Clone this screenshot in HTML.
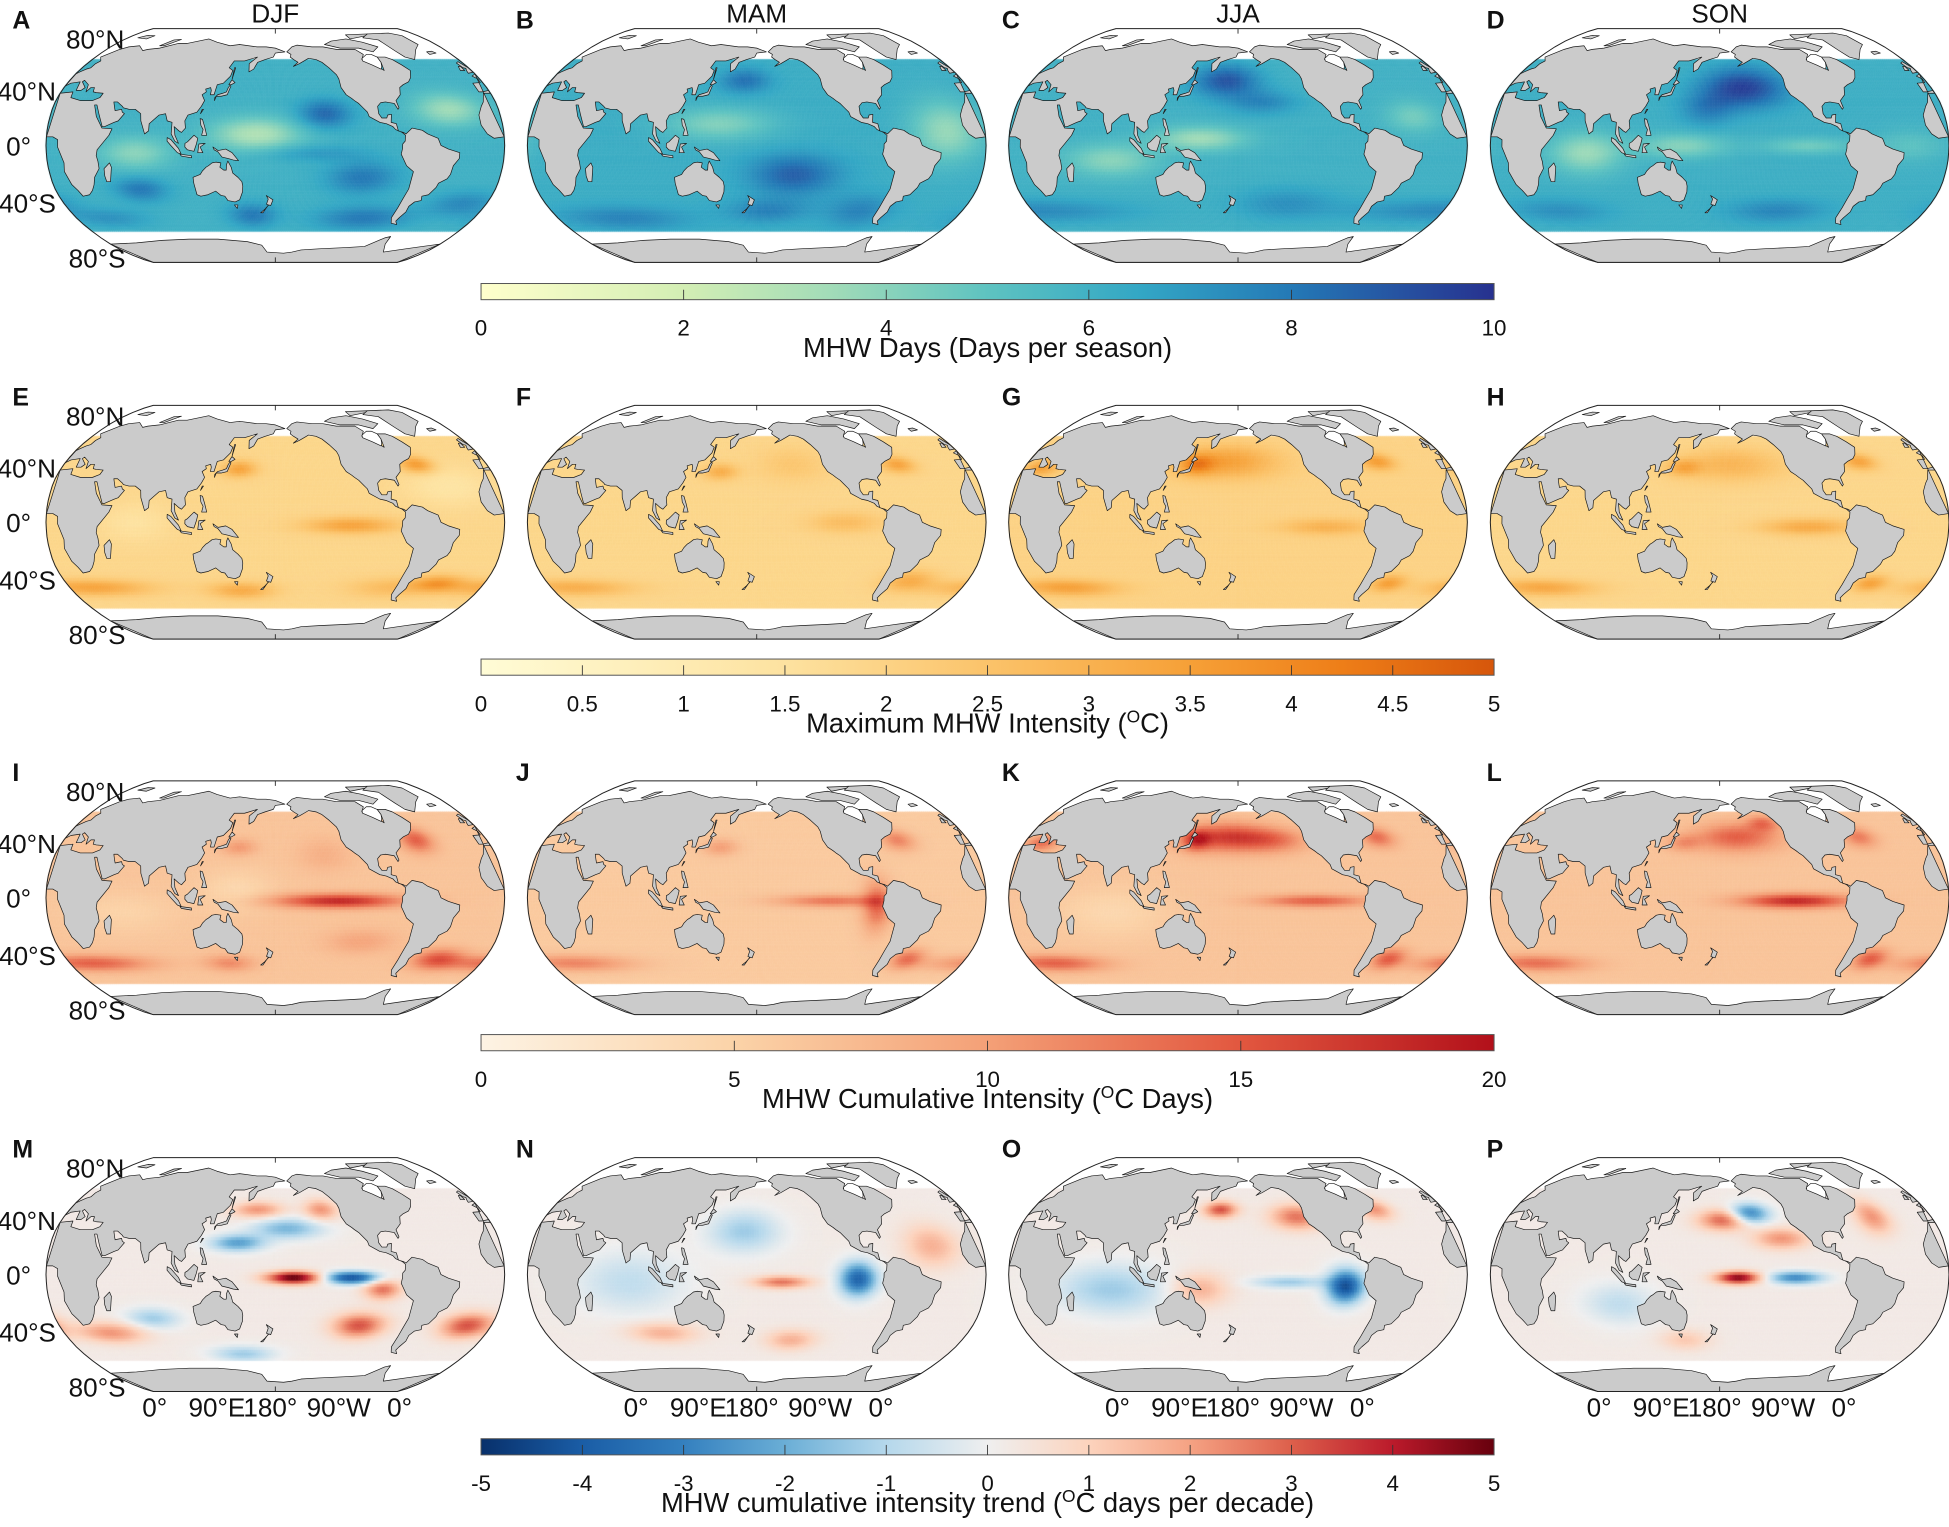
<!DOCTYPE html>
<html><head><meta charset="utf-8"><title>MHW seasonal maps</title>
<style>
body{margin:0;background:#fff}
#root{position:relative;width:1949px;height:1527px;background:#fff;overflow:hidden}
#cv,#sv{position:absolute;left:0;top:0}
text{font-family:"Liberation Sans",Arial,sans-serif;fill:#111}
</style></head>
<body>
<div id="root">
<canvas id="cv" width="1949" height="1527"></canvas>
<svg id="sv" width="1949" height="1527" viewBox="0 0 1568 1228" preserveAspectRatio="none" xmlns="http://www.w3.org/2000/svg">
<defs id="defs"></defs>
<g id="maps"></g>
<g id="labels"></g>
<g id="cbars"></g>
</svg>
</div>
<script>
// ---------- DATA ----------
const seasons = ['DJF','MAM','JJA','SON'];
const letters = ['A','B','C','D','E','F','G','H','I','J','K','L','M','N','O','P'];
const rowBase = [
  [6,6.2,6,6.1],
  [1.9,1.9,2.0,1.9],
  [6.5,6,6.5,6.5],
  [0.2,0.2,0.2,0.2]
];
// blobs: [lon, lat, sigmaLon, sigmaLat, amplitude]
const blobsA = [[165,8,25,8,-3],[70,-5,20,8,-2],[-40,25,20,8,-2.5],[-140,22,15,7,2.5],[-110,-22,20,8,2],[70,-30,15,6,2],[-100,-50,30,6,2],[160,-48,15,6,2],[-150,-5,30,4,1],[-20,-40,20,6,1.5],[30,-50,25,5,1.2]];
const blobsB = [[-30,10,20,15,-2.5],[150,15,30,8,-2],[-150,-20,25,10,2.5],[-90,-45,20,8,1.5],[60,-50,40,6,1.5],[170,45,15,6,2],[-170,-45,25,6,1.5]];
const blobsC = [[170,45,20,8,3],[-160,30,20,6,1.5],[150,5,25,6,-2.5],[80,-10,25,8,-2],[-40,20,15,8,-1.5],[0,-45,60,6,1.5],[-140,-40,30,8,1.2]];
const blobsD = [[-160,40,25,10,3.5],[170,25,15,8,1.5],[150,0,25,6,-2],[75,-5,20,10,-2.5],[-110,0,25,4,-1.5],[-130,-45,30,6,1.5],[-30,0,20,8,-1],[40,-45,30,6,1.2]];
const blobsE = [[20,-45,35,4,1.5],[150,-47,20,4,1.3],[-80,-45,25,5,0.8],[-40,-42,15,4,1.5],[-120,-2,25,4,1.5],[150,37,10,4,1.5],[-60,40,10,4,1.8],[-40,25,25,10,-0.5],[70,0,20,10,-0.4]];
const blobsF = [[20,-45,35,4,1.2],[-50,-40,15,5,1.2],[150,35,10,4,1.2],[-60,40,10,4,1.5],[-110,0,20,5,0.8],[-150,40,20,8,0.5]];
const blobsG = [[170,42,30,8,1.5],[145,40,10,5,1.5],[-60,42,10,4,1.6],[30,-45,30,4,1.5],[-50,-42,10,4,1.5],[-110,-3,25,4,1.0],[15,38,10,4,1.5]];
const blobsH = [[-170,40,30,8,1.0],[150,38,10,4,1.2],[-60,42,10,4,1.5],[25,-45,30,4,1.4],[-50,-42,10,4,1.5],[-110,-3,25,4,1.3]];
const blobsI = [[-130,-2,35,3.5,12],[20,-45,35,4,8],[140,-45,15,4,5],[-40,-42,15,5,8],[-60,40,10,6,8],[150,35,10,4,4],[150,5,20,10,-2],[60,-10,30,10,-1.5],[-110,-30,20,6,3],[-140,30,15,8,2]];
const blobsJ = [[-120,-2,30,3,7],[20,-45,35,4,6],[-50,-42,10,5,7],[-60,40,10,5,6],[-85,-5,8,12,8],[150,35,10,4,4]];
const blobsK = [[170,42,25,7,10],[-150,40,20,6,6],[145,40,8,5,8],[-60,42,10,5,7],[-120,-2,30,3,8],[20,-45,30,4,8],[-50,-42,10,5,8],[15,38,10,4,7],[80,-10,30,12,-2]];
const blobsL = [[-165,42,25,7,8],[-140,52,10,4,6],[-120,-2,30,3.5,12],[-60,42,10,5,6],[20,-45,30,4,7],[-50,-42,10,5,8],[150,38,10,4,4]];
const blobsM = [[-165,-2,15,3,5],[-120,-2,15,3,-4.5],[150,22,15,4,-2.5],[-170,32,20,5,-2],[165,45,15,4,2],[-110,-35,15,6,3],[-20,-35,15,6,3],[40,-40,20,5,2],[80,-30,15,5,-1.5],[150,-55,20,4,-1.5],[-140,45,10,5,2],[-95,-10,10,5,2.5]];
const blobsN = [[-100,-3,10,8,-4],[-160,-5,15,3,2.5],[170,30,20,10,-1.5],[80,-5,30,15,-1],[-40,20,15,10,1.5],[100,-40,20,5,1.5],[-150,-45,15,5,1.5]];
const blobsO = [[-95,-8,10,8,-4.5],[-130,40,15,6,2.5],[165,45,10,4,3],[-60,45,10,5,2],[80,-10,30,12,-1.5],[-140,-5,20,3,-1.5],[150,-10,15,8,1.5]];
const blobsP = [[-165,-2,12,3,4.5],[-120,-2,15,3,-3],[-155,42,12,5,-3.5],[-175,38,15,5,3],[-130,25,15,5,2],[100,-20,20,10,-1],[-50,40,10,8,2],[150,-45,15,5,1]];
const panelBlobs = [blobsA,blobsB,blobsC,blobsD,blobsE,blobsF,blobsG,blobsH,blobsI,blobsJ,blobsK,blobsL,blobsM,blobsN,blobsO,blobsP];

const ticks1 = [0,2,4,6,8,10];
const ticks2 = [0,0.5,1,1.5,2,2.5,3,3.5,4,4.5,5];
const ticks3 = [0,5,10,15,20];
const ticks4 = [-5,-4,-3,-2,-1,0,1,2,3,4,5];
const ranges = [[0,10],[0,5],[0,20],[-5,5]];

const cmapDays = [[0,'#ffffcc'],[0.2,'#d3eeb4'],[0.35,'#a0dbb8'],[0.5,'#5ec3c1'],[0.65,'#33a7c5'],[0.8,'#2479b6'],[1,'#27318f']];
const cmapInt = [[0,'#fffcd6'],[0.3,'#fde2a0'],[0.5,'#fbc36a'],[0.7,'#f6a037'],[0.85,'#ee7e18'],[1,'#d6560b']];
const cmapCum = [[0,'#fdf3e4'],[0.25,'#fbd3a8'],[0.5,'#f4a077'],[0.75,'#e2573f'],[1,'#b2101a']];
const cmapDiv = [[0,'#08306b'],[0.1,'#1a5da6'],[0.2,'#3480bf'],[0.3,'#6aaed6'],[0.4,'#b5d8ec'],[0.5,'#efefef'],[0.6,'#fcd3bd'],[0.7,'#f5a283'],[0.8,'#dd5f4b'],[0.9,'#bb1a2b'],[1,'#67000d']];
const cmaps = [cmapDays,cmapInt,cmapCum,cmapDiv];

// ---------- GEOMETRY ----------
const RX = 184.5, RY = 94;
const colCX = [221.5, 608.8, 996, 1383.5];
const rowCY = [117, 420, 722, 1025];
const cbarTop = [228, 530, 832, 1157];
const CBX0 = 387, CBX1 = 1202, CBH = 13;
const PLEN=[1,.9986,.9954,.99,.9822,.973,.96,.9427,.9216,.8962,.8679,.835,.7986,.7597,.7186,.6732,.6213,.5722,.5322];
const PDFE=[0,.062,.124,.186,.248,.31,.372,.434,.4958,.5571,.6176,.6769,.7346,.7903,.8435,.8936,.9394,.9761,1];
function interp(t,lat){const a=Math.min(Math.abs(lat),90)/5;const i=Math.min(Math.floor(a),17);const f=a-i;return t[i]+(t[i+1]-t[i])*f;}
function proj(cx,cy,lon,lat){const L=((lon%360)+360)%360;const d=L-180;return [cx+RX*interp(PLEN,lat)*d/180, cy-(lat<0?-1:1)*RY*interp(PDFE,lat)];}

const land = {
 eurasiaAfrica:[[0.01,49.5],[2,51],[5,53],[8,54],[8,57],[10,59],[5,62],[14,68],[20,70],[30,71],[40,67],[44,68],[55,69],[70,73],[80,73],[100,77],[113,74],[130,71],[140,72],[160,70],[170,70],[180,69],[190,66],[180,65],[178,62],[170,60],[163,58],[160,53],[156,51],[155,57],[162,62],[150,59],[140,59],[137,54],[141,52],[140,48],[135,43],[130,42],[129,35],[126,35],[126,38],[125,40],[121,39],[122,37],[119,35],[122,31],[120,27],[117,23],[110,21],[108,17],[109,12],[106,9],[104,10],[100,13],[101,7],[104,1.5],[101,3],[98,8],[98,16],[94,17],[92,22],[87,21],[80,15],[80,10],[77,8],[73,17],[72,22],[67,25],[62,25],[57,26],[56,27],[51,30],[48,30],[50,26],[51,24],[56,25],[57,23],[59,22],[55,17],[52,16],[45,13],[43,13],[39,21],[35,28],[33,28],[37,20],[43,12],[51,11.5],[49,7],[40,-3],[39,-7],[40,-11],[40,-16],[35,-22],[33,-27],[30,-31],[26,-34],[20,-35],[18,-31],[15,-27],[12,-18],[13,-12],[9,-1],[9,4],[5,6],[0.01,6],[0.01,36],[10,37],[11,33],[20,31],[30,31],[35,33],[36,36],[30,36.5],[27,37],[26,40],[23,40],[21,37],[19,42],[13,45],[12,44],[18,40],[16,38],[12,38],[10,44],[3,43],[0.01,41]],
 africaWest:[[359.99,6],[352,5],[347,8],[343,14],[343,21],[347,27],[350,30],[354,36],[359.99,36],[359.99,38],[354,37],[351,37],[351,43],[358,43.5],[358.5,46],[355.5,48],[359.99,49.5]],
 uk:[[-5.5,50],[-0.01,50.8],[-0.01,53.5],[-3,58.5],[-6,57.5],[-5,54],[-3,53.5],[-4.5,52]],
 ireland:[[-10,52],[-6,52],[-6,55],[-8,55]],
 iceland:[[-22,64],[-14,65],[-16,66.5],[-22,66]],
 americas:[[-168,66],[-162,70],[-156,71.5],[-140,70],[-128,70],[-115,68],[-95,68],[-90,64],[-95,60],[-85,56],[-80,52],[-78,58],[-78,62],[-70,62],[-65,60],[-60,56],[-56,52],[-60,47],[-64,44],[-70,42],[-74,40],[-76,35],[-81,31],[-80,26],[-81,25],[-83,29],[-90,30],[-94,29.5],[-97,27],[-97,22],[-95,19],[-91,19],[-90,21],[-87,21.5],[-88,16],[-84,15],[-83,10],[-79,9],[-77,8],[-72,12],[-64,10.5],[-60,8],[-52,5],[-50,0],[-44,-2.5],[-35,-5],[-35,-9],[-39,-14],[-40,-20],[-42,-23],[-48,-26],[-49,-29],[-53,-34],[-58,-35],[-57,-38],[-62,-39],[-65,-42],[-65,-46],[-68,-50],[-69,-52.5],[-66,-55],[-72,-54],[-75,-50],[-74,-43],[-73,-37],[-71,-30],[-70,-18],[-76,-14],[-81,-6],[-80,-2],[-80,1],[-78,3],[-77.5,7],[-80,9],[-85,11],[-87,13],[-92,15],[-97,16],[-105,20],[-106,23],[-109,26],[-112,29],[-115,31],[-117,32.5],[-121,35],[-124,40],[-124,46],[-125,49],[-130,54],[-135,58],[-140,60],[-147,61],[-152,59],[-157,57],[-163,55],[-158,58],[-162,60],[-165,62],[-164,64]],
 hudson:[[-95,59],[-94,61],[-87,64],[-82,64],[-78,62],[-78,58],[-80,55],[-82,53],[-88,56]],
 arcticIslands:[[-125,72],[-115,75],[-95,77],[-80,74],[-68,70],[-78,66],[-90,69],[-110,69]],
 ellesmere:[[-90,77],[-65,80],[-60,82],[-90,81]],
 greenland:[[-73,78],[-60,82],[-30,83],[-20,80],[-20,72],[-30,68],[-43,60],[-50,62],[-54,67],[-58,76]],
 australia:[[114,-22],[114,-26],[115,-34],[118,-35],[124,-34],[131,-31.5],[135,-34.5],[138,-35],[140,-38],[146,-39],[150,-37.5],[153,-32],[153.5,-28],[153,-25],[150,-22],[146,-19],[145,-15],[142.5,-10.7],[141.5,-13],[141,-17],[139,-17],[136,-15],[137,-12],[133,-11.5],[130,-12],[127,-14],[125,-15],[122,-17.5],[120,-20]],
 tasmania:[[145,-41],[148,-41],[147,-43.5]],
 nz:[[172.5,-34.5],[178,-37.5],[176,-41.5],[174.5,-41],[172,-43],[171,-44],[167,-46.5],[169,-46.5],[174,-41],[172.5,-40.5],[174,-37]],
 madagascar:[[44,-25],[47,-25],[50,-15],[49,-12],[44,-16],[43.5,-21]],
 borneo:[[109,1.5],[111,2.5],[116,7],[119,5],[118,1],[116,-4],[111,-3],[109,-1]],
 sumatra:[[95,5.5],[98,4],[104,-2],[106,-6],[103,-5],[98,0],[95,3]],
 java:[[105,-6],[114,-7],[114,-8.5],[106,-7.3]],
 sulawesi:[[119,-5],[120,1],[125,1.5],[121,-1],[123,-5]],
 newGuinea:[[131,-1],[135,-3.5],[141,-2.5],[146,-5],[151,-10.5],[147,-10],[143,-9],[138,-8],[135,-4.5],[132,-3]],
 philippines:[[120,18.5],[122,18],[124,13],[126,7],[122,7],[123,11],[121,14]],
 japan:[[130,31],[131,34],[135,34],[140,35],[141,38],[142,41],[141,41.5],[140,40],[139,37],[136,36],[132,35],[130,33]],
 hokkaido:[[140,42],[142,42],[145,43.5],[142,45.5]],
 sakhalin:[[142,46],[143,54],[142,54]],
 taiwan:[[120,22],[122,25],[121,25]],
 svalbard:[[12,78],[25,77],[28,80],[18,80.5]],
 novayaZemlya:[[52,71],[57,71],[68,76.5],[60,76]],
 antarctica:[[0.01,-70],[30,-69],[60,-67],[90,-66],[120,-66],[150,-68],[165,-71],[170,-77],[190,-78],[200,-77],[210,-75],[230,-74],[260,-73],[280,-72],[293,-65],[298,-64],[300,-70],[310,-77],[330,-74],[345,-72],[359.99,-70],[359.99,-90],[0.01,-90]]
};

function hex2rgb(h){return [parseInt(h.substr(1,2),16),parseInt(h.substr(3,2),16),parseInt(h.substr(5,2),16)];}
function cmapColor(cm,t){t=Math.max(0,Math.min(1,t));for(let i=0;i<cm.length-1;i++){if(t<=cm[i+1][0]){const f=(t-cm[i][0])/(cm[i+1][0]-cm[i][0]);const a=hex2rgb(cm[i][1]),b=hex2rgb(cm[i+1][1]);return 'rgb('+Math.round(a[0]+(b[0]-a[0])*f)+','+Math.round(a[1]+(b[1]-a[1])*f)+','+Math.round(a[2]+(b[2]-a[2])*f)+')';}}return cm[cm.length-1][1];}
function fieldValue(base,blobs,lon,lat){let v=base;for(const b of blobs){const dl=((lon-b[0]+540)%360)-180;const dt=lat-b[1];v+=b[4]*Math.exp(-0.5*((dl/b[2])**2+(dt/b[3])**2));}return v;}
const NS='http://www.w3.org/2000/svg';
function mk(tag,attrs,parent){const e=document.createElementNS(NS,tag);for(const k in attrs)e.setAttribute(k,attrs[k]);if(parent)parent.appendChild(e);return e;}

const cv=document.getElementById('cv');const ctx=cv.getContext('2d');
ctx.setTransform(1949/1568,0,0,1527/1228,0,0);
const STEP=2;
for(let r=0;r<4;r++){for(let c=0;c<4;c++){
  const idx=r*4+c, cx=colCX[c], cy=rowCY[r], blobs=panelBlobs[idx], base=rowBase[r][c];
  const [v0,v1]=ranges[r], cm=cmaps[r];
  for(let lat=-60;lat<60;lat+=STEP){
    const y0=cy-(lat<0?-1:1)*RY*interp(PDFE,lat), y1=cy-((lat+STEP)<0?-1:1)*RY*interp(PDFE,lat+STEP);
    const p0=interp(PLEN,lat), p1=interp(PLEN,lat+STEP);
    for(let L=0;L<360;L+=STEP){
      const d0=L-180, d1=L+STEP-180;
      const v=fieldValue(base,blobs,L+STEP/2,lat+STEP/2);
      const col=cmapColor(cm,(v-v0)/(v1-v0));
      ctx.fillStyle=col;ctx.strokeStyle=col;ctx.lineWidth=0.5;
      ctx.beginPath();
      ctx.moveTo(cx+RX*p0*d0/180,y0);ctx.lineTo(cx+RX*p0*d1/180,y0);
      ctx.lineTo(cx+RX*p1*d1/180,y1);ctx.lineTo(cx+RX*p1*d0/180,y1);
      ctx.closePath();ctx.fill();ctx.stroke();
    }
  }
}}

const mapsG=document.getElementById('maps');
function polyPath(cx,cy,pts){return 'M'+pts.map(p=>{const q=proj(cx,cy,p[0],p[1]);return q[0].toFixed(1)+','+q[1].toFixed(1);}).join('L')+'Z';}
function outlinePath(cx,cy){let s='';for(let lat=90;lat>=-90;lat-=5){const x=cx-RX*interp(PLEN,lat),y=cy-(lat<0?-1:1)*RY*interp(PDFE,lat);s+=(s?'L':'M')+x.toFixed(1)+','+y.toFixed(1);}
 for(let lat=-90;lat<=90;lat+=5){const x=cx+RX*interp(PLEN,lat),y=cy-(lat<0?-1:1)*RY*interp(PDFE,lat);s+='L'+x.toFixed(1)+','+y.toFixed(1);}return s+'Z';}
for(let r=0;r<4;r++){for(let c=0;c<4;c++){
  const cx=colCX[c], cy=rowCY[r];
  const g=mk('g',{},mapsG);
  
  
  for(const k in land){
    const water=(k==='hudson');
    const p=mk('path',{d:polyPath(cx,cy,land[k]),fill:water?'#ffffff':'#cbcbcb',stroke:'#1a1a1a','stroke-width':'0.55','stroke-linejoin':'round'},g);
    
    
  }
  const o=mk('path',{d:outlinePath(cx,cy),fill:'none',stroke:'#222','stroke-width':'0.8'},g);
  
  
  const t1=mk('line',{x1:cx,y1:cy-RY,x2:cx,y2:cy-RY+4,stroke:'#222','stroke-width':'0.7'},g);
  
  
  const t2=mk('line',{x1:cx,y1:cy+RY,x2:cx,y2:cy+RY-4,stroke:'#222','stroke-width':'0.7'},g);
  
  
}}

const lab=document.getElementById('labels');
function txt(parent,x,y,s,size,anchor,weight,name){const t=mk('text',{x:x,y:y,'font-size':size,'text-anchor':anchor||'start','font-weight':weight||'normal'},parent);t.textContent=s;return t;}
for(let c=0;c<4;c++){txt(lab,colCX[c],18,seasons[c],21,'middle','normal','season-title-'+seasons[c].toLowerCase());}
const letterX=[10,415,806,1196];
for(let r=0;r<4;r++){for(let c=0;c<4;c++){txt(lab,letterX[c],rowCY[r]-94,letters[r*4+c],20,'start','bold','panel-letter-'+letters[r*4+c].toLowerCase());}}
const latLabels=[['80°N',100,-78],['40°N',45,-36],['0°',25,8],['40°S',45,54],['80°S',101,98]];
for(let r=0;r<4;r++){for(const l of latLabels){txt(lab,l[1],rowCY[r]+l[2],l[0],21,'end','normal','lat-label');}}
const lonLabels=[['0°',-97],['90°E',-47],['180°',-4],['90°W',51],['0°',100]];
for(let c=0;c<4;c++){for(const l of lonLabels){txt(lab,colCX[c]+l[1],1139,l[0],21,'middle','normal','lon-label');}}

const cb=document.getElementById('cbars');const defs=document.getElementById('defs');
const allTicks=[ticks1,ticks2,ticks3,ticks4];
const titles=[['MHW Days (Days per season)'],['Maximum MHW Intensity (','C)'],['MHW Cumulative Intensity (','C Days)'],['MHW cumulative intensity trend (','C days per decade)']];
for(let r=0;r<4;r++){
  const gr=mk('linearGradient',{id:'grad'+r,x1:'0',x2:'1',y1:'0',y2:'0'},defs);
  for(const s of cmaps[r]){mk('stop',{offset:s[0],'stop-color':s[1]},gr);}
  const g=mk('g',{},cb);
  
  
  const y=cbarTop[r];
  const rect=mk('rect',{x:CBX0,y:y,width:CBX1-CBX0,height:CBH,fill:'url(#grad'+r+')',stroke:'#555','stroke-width':'0.8'},g);
  
  
  const [v0,v1]=ranges[r];
  const sx=v=>CBX0+(v-v0)/(v1-v0)*(CBX1-CBX0);
  for(const v of allTicks[r]){
    const x=sx(v);
    if(v!==v0&&v!==v1){const tl=mk('line',{x1:x,x2:x,y1:y+5,y2:y+CBH,stroke:'#333','stroke-width':'0.7'},g);
      
      }
    txt(g,x,y+42,String(v),18,'middle','normal','colorbar-tick-label');
  }
  const t=txt(g,(CBX0+CBX1)/2,y+59,titles[r][0],22,'middle','normal','colorbar-title');
  if(titles[r].length>1){
    const s1=mk('tspan',{'font-size':14,dy:-8},t);s1.textContent='O';
    const s2=mk('tspan',{dy:8},t);s2.textContent=titles[r][1];
  }
}
</script>
</body></html>
